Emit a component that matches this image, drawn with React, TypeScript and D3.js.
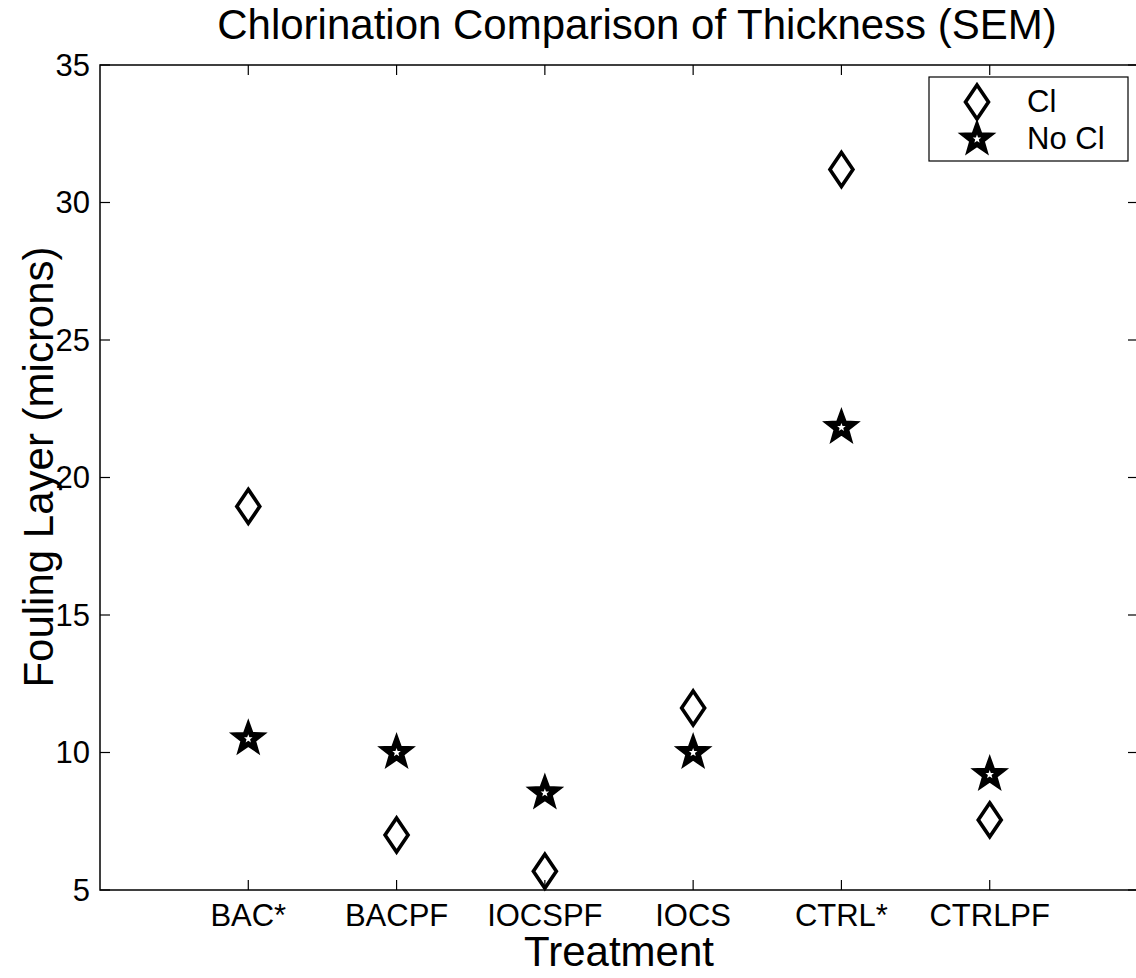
import React from "react";
import * as d3 from "d3";

const categories = ["BAC*", "BACPF", "IOCSPF", "IOCS", "CTRL*", "CTRLPF"];
const clValues = [18.95, 7.0, 5.68, 11.62, 31.2, 7.55];
const noClValues = [10.5, 10.0, 8.53, 10.0, 21.82, 9.2];
const yTicks = [5, 10, 15, 20, 25, 30, 35];
const seriesNames = ["Cl", "No Cl"];

const W = 1136;
const H = 978;
const M = { left: 100, right: 1138, top: 65, bottom: 890 };
const FONT = "'Liberation Sans', Arial, Helvetica, sans-serif";

function starPath(R: number, r: number): string {
  const pts: [number, number][] = [];
  for (let i = 0; i < 10; i++) {
    const a = -Math.PI / 2 + (i * Math.PI) / 5;
    const rad = i % 2 === 0 ? R : r;
    pts.push([rad * Math.cos(a), rad * Math.sin(a)]);
  }
  return "M" + pts.map((p) => p[0].toFixed(2) + "," + p[1].toFixed(2)).join("L") + "Z";
}

function diamondPath(hw: number, hh: number): string {
  return `M0,${-hh}L${hw},0L0,${hh}L${-hw},0Z`;
}

const Diamond = ({ x, y }: { x: number; y: number }) => (
  <path d={diamondPath(11.5, 17)} transform={`translate(${x},${y})`} fill="none" stroke="#000" strokeWidth={3.6} strokeLinejoin="miter" />
);

const Star = ({ x, y }: { x: number; y: number }) => (
  <g transform={`translate(${x},${y})`}>
    <path d={starPath(16, 6.6)} fill="#000" stroke="#000" strokeWidth={3} strokeLinejoin="miter" />
    <path d={starPath(4.5, 1.9)} fill="#fff" />
  </g>
);

export default function App() {
  const x = d3.scaleLinear().domain([0, categories.length + 1]).range([M.left, M.right]);
  const y = d3.scaleLinear().domain([5, 35]).range([M.bottom, M.top]);
  const tl = 10;

  return (
    <svg width={W} height={H} style={{ position: "absolute", left: 0, top: 0, background: "#fff" }} fontFamily={FONT}>
      <rect x={0} y={0} width={W} height={H} fill="#fff" />
      {/* frame */}
      <rect x={M.left} y={M.top} width={M.right - M.left} height={M.bottom - M.top} fill="none" stroke="#000" strokeWidth={1.5} />
      {/* y ticks */}
      {yTicks.map((t) => (
        <g key={"y" + t}>
          <line x1={M.left} x2={M.left + tl} y1={y(t)} y2={y(t)} stroke="#000" strokeWidth={1.2} />
          <line x1={M.right} x2={M.right - tl} y1={y(t)} y2={y(t)} stroke="#000" strokeWidth={1.2} />
          <text x={M.left - 10} y={y(t)} dy="0.35em" textAnchor="end" fontSize={31}>
            {t}
          </text>
        </g>
      ))}
      {/* x ticks */}
      {categories.map((c, i) => (
        <g key={c}>
          <line x1={x(i + 1)} x2={x(i + 1)} y1={M.bottom} y2={M.bottom - tl} stroke="#000" strokeWidth={1.2} />
          <line x1={x(i + 1)} x2={x(i + 1)} y1={M.top} y2={M.top + tl} stroke="#000" strokeWidth={1.2} />
          <text x={x(i + 1)} y={926} textAnchor="middle" fontSize={31}>
            {c}
          </text>
        </g>
      ))}
      {/* data */}
      {clValues.map((v, i) => (
        <Diamond key={"d" + i} x={x(i + 1)} y={y(v)} />
      ))}
      {noClValues.map((v, i) => (
        <Star key={"s" + i} x={x(i + 1)} y={y(v)} />
      ))}
      {/* title and labels */}
      <text x={637} y={39} textAnchor="middle" fontSize={42}>
        Chlorination Comparison of Thickness (SEM)
      </text>
      <text x={(M.left + M.right) / 2} y={966} textAnchor="middle" fontSize={42}>
        Treatment
      </text>
      <text transform={`translate(53,467) rotate(-90)`} textAnchor="middle" fontSize={42}>
        Fouling Layer (microns)
      </text>
      {/* legend */}
      <rect x={929} y={77} width={199} height={84} fill="#fff" stroke="#000" strokeWidth={1.2} />
      <Diamond x={977} y={102} />
      <Star x={977} y={139} />
      <text x={1027} y={112} fontSize={31}>
        {seriesNames[0]}
      </text>
      <text x={1027} y={149} fontSize={31}>
        {seriesNames[1]}
      </text>
    </svg>
  );
}
